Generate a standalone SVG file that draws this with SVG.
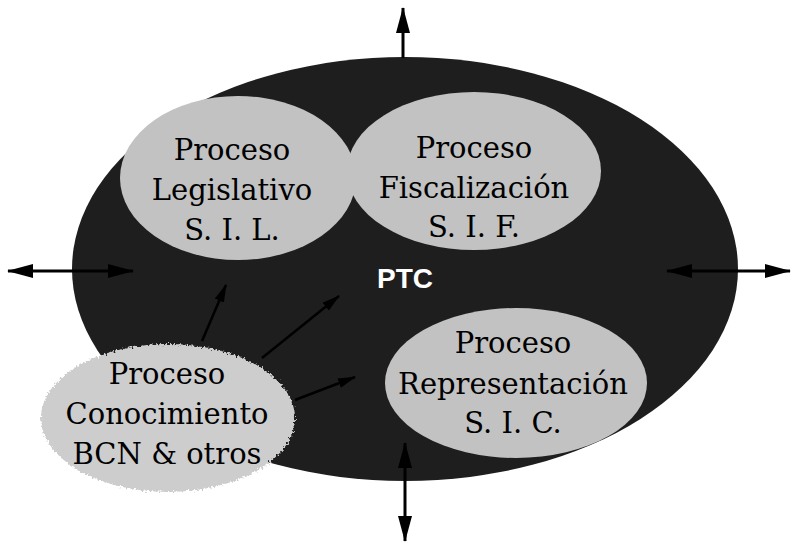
<svg xmlns="http://www.w3.org/2000/svg" width="791" height="542" viewBox="0 0 791 542">
<style>
.lbl{font-family:"DejaVu Serif","Liberation Serif",serif;font-size:29px;fill:#000;text-anchor:middle}
.ptc{font-family:"Liberation Sans",Arial,sans-serif;font-weight:bold;font-size:28px;fill:#fff;text-anchor:middle}
.bigline{stroke:#000;stroke-width:3;fill:none}
.small{stroke:#000;stroke-width:2.5;fill:none}
.light{fill:#c2c2c2}
</style>
<defs>
<marker id="bh" viewBox="0 0 26 14" refX="25" refY="7" markerWidth="26" markerHeight="14" markerUnits="userSpaceOnUse" orient="auto-start-reverse">
<path d="M0,0 L26,7 L0,14 Z" fill="#000"/>
</marker>
<marker id="sh" viewBox="0 0 18 10" refX="17" refY="5" markerWidth="18" markerHeight="10" markerUnits="userSpaceOnUse" orient="auto">
<path d="M0,0 L18,5 L0,10 Z" fill="#000"/>
</marker>
<filter id="fuzzy" x="-10%" y="-10%" width="120%" height="120%">
<feTurbulence type="fractalNoise" baseFrequency="0.5" numOctaves="1" seed="5" result="t"/>
<feDisplacementMap in="SourceGraphic" in2="t" scale="7" xChannelSelector="R" yChannelSelector="G"/>
</filter>
</defs>

<g id="ptc">
<ellipse cx="405" cy="269" rx="333" ry="212" fill="#1e1e1e"/>
<text class="ptc" x="405" y="288">PTC</text>
</g>

<g id="legislativo">
<ellipse class="light" cx="238" cy="178" rx="118" ry="82"/>
<text class="lbl" x="232" y="160">Proceso</text>
<text class="lbl" x="232" y="200">Legislativo</text>
<text class="lbl" x="232" y="240">S. I. L.</text>
</g>

<g id="fiscalizacion">
<ellipse class="light" cx="474" cy="171" rx="127" ry="79"/>
<text class="lbl" x="474" y="158">Proceso</text>
<text class="lbl" x="474" y="198">Fiscalización</text>
<text class="lbl" x="474" y="237">S. I. F.</text>
</g>

<g id="representacion">
<ellipse class="light" cx="516" cy="383" rx="131" ry="75"/>
<text class="lbl" x="513" y="353">Proceso</text>
<text class="lbl" x="513" y="394">Representación</text>
<text class="lbl" x="513" y="433">S. I. C.</text>
</g>

<g id="conocimiento">
<ellipse cx="168" cy="418" rx="127" ry="74" fill="#cdcdcd" filter="url(#fuzzy)"/>
<text class="lbl" x="167" y="384">Proceso</text>
<text class="lbl" x="167" y="424">Conocimiento</text>
<text class="lbl" x="167" y="464">BCN &amp; otros</text>
</g>

<g id="connectors">
<line class="bigline" x1="403" y1="58" x2="403" y2="8" marker-end="url(#bh)"/>
<line class="bigline" x1="133" y1="271" x2="8" y2="271" marker-start="url(#bh)" marker-end="url(#bh)"/>
<line class="bigline" x1="667" y1="271" x2="790" y2="271" marker-start="url(#bh)" marker-end="url(#bh)"/>
<line class="bigline" x1="405" y1="443" x2="405" y2="541" marker-start="url(#bh)" marker-end="url(#bh)"/>
<line class="small" x1="202" y1="341" x2="226" y2="285" marker-end="url(#sh)"/>
<line class="small" x1="262" y1="358" x2="339" y2="296" marker-end="url(#sh)"/>
<line class="small" x1="295" y1="400" x2="355" y2="377" marker-end="url(#sh)"/>
</g>
</svg>
